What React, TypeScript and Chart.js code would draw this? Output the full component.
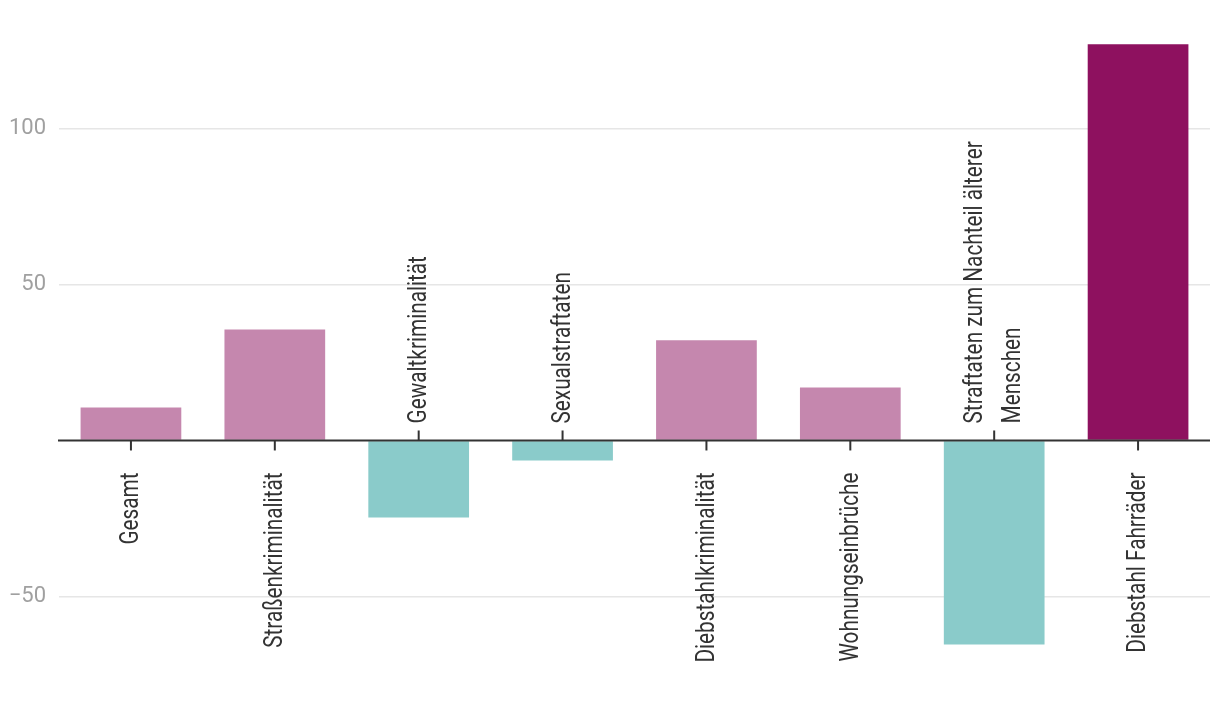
import React, { useEffect, useRef } from "react";
import { Chart, registerables } from "chart.js";

Chart.register(...registerables);

const categories: string[][] = [
  ["Gesamt"],
  ["Straßenkriminalität"],
  ["Gewaltkriminalität"],
  ["Sexualstraftaten"],
  ["Diebstahlkriminalität"],
  ["Wohnungseinbrüche"],
  ["Straftaten zum Nachteil älterer", "Menschen"],
  ["Diebstahl Fahrräder"],
];

const values: number[] = [10.6, 35.6, -24.7, -6.4, 32.1, 17.0, -65.4, 127.0];

const yTicks: number[] = [-50, 0, 50, 100];

const highlighted: string = "Diebstahl Fahrräder";

const FONT = '"Roboto", "Liberation Sans", sans-serif';
const POS = "#c587ae";
const NEG = "#8acbca";
const HIGH = "#8e115f";
const DARK = "#333333";
const SQUEEZE = 0.83;

const labelPlugin = {
  id: "categoryLabels",
  afterDatasetsDraw(chart: any) {
    const { ctx, scales } = chart;
    const x = scales.x;
    const y = scales.y;
    const zeroY = y.getPixelForValue(0);
    ctx.save();
    // zero line
    ctx.strokeStyle = DARK;
    ctx.lineWidth = 2;
    ctx.beginPath();
    ctx.moveTo(chart.chartArea.left - 1, zeroY);
    ctx.lineTo(chart.chartArea.right, zeroY);
    ctx.stroke();

    categories.forEach((lines, i) => {
      const cx = x.getPixelForValue(i);
      const v = values[i];
      const below = v >= 0;
      // tick mark
      ctx.strokeStyle = DARK;
      ctx.lineWidth = 2;
      ctx.beginPath();
      ctx.moveTo(cx, zeroY);
      ctx.lineTo(cx, below ? zeroY + 10 : zeroY - 10);
      ctx.stroke();
      // label
      ctx.save();
      ctx.translate(cx, below ? zeroY + 32 : zeroY - 17);
      ctx.rotate(-Math.PI / 2);
      ctx.scale(SQUEEZE, 1);
      ctx.font = `25px ${FONT}`;
      ctx.fillStyle = DARK;
      ctx.textAlign = below ? "right" : "left";
      ctx.textBaseline = "middle";
      const n = lines.length;
      lines.forEach((line, j) => {
        ctx.fillText(line, 0, (j - (n - 1) / 2) * 38 + 1);
      });
      ctx.restore();
    });
    ctx.restore();
  },
};

export default function App() {
  const ref = useRef<HTMLCanvasElement>(null);
  useEffect(() => {
    if (!ref.current) return;
    const chart = new Chart(ref.current, {
      type: "bar",
      data: {
        labels: categories.map((c) => c.join(" ")),
        datasets: [
          {
            data: values,
            backgroundColor: values.map((v, i) =>
              categories[i].join(" ") === highlighted ? HIGH : v >= 0 ? POS : NEG
            ),
            barPercentage: 0.7,
            categoryPercentage: 1,
            borderWidth: 0,
          },
        ],
      },
      options: {
        responsive: false,
        animation: false,
        layout: { padding: { top: 35, bottom: 12, left: 0, right: 10 } },
        plugins: { legend: { display: false }, tooltip: { enabled: false } },
        scales: {
          x: { display: false },
          y: {
            min: -80,
            max: 130,
            afterBuildTicks: (s: any) => {
              s.ticks = yTicks.map((value) => ({ value }));
            },
            afterFit: (s: any) => {
              s.width = 59;
              s.paddingTop = 0;
              s.paddingBottom = 0;
            },
            border: { display: false },
            grid: {
              drawTicks: false,
              color: (c: any) => (c.tick && c.tick.value === 0 ? "rgba(0,0,0,0)" : "#e6e6e6"),
              lineWidth: 1.5,
            },
            ticks: {
              padding: 13,
              color: "#a0a0a0",
              font: { family: FONT, size: 22 },
              callback: (v: any) => (v === 0 ? "" : v < 0 ? "\u2212" + Math.abs(v) : String(v)),
            },
          },
        },
      },
      plugins: [labelPlugin],
    });
    return () => chart.destroy();
  }, []);
  return (
    <div style={{ position: "absolute", left: 0, top: 0, width: 1220, height: 702, background: "#fff" }}>
      <canvas ref={ref} width={1220} height={702} />
    </div>
  );
}
